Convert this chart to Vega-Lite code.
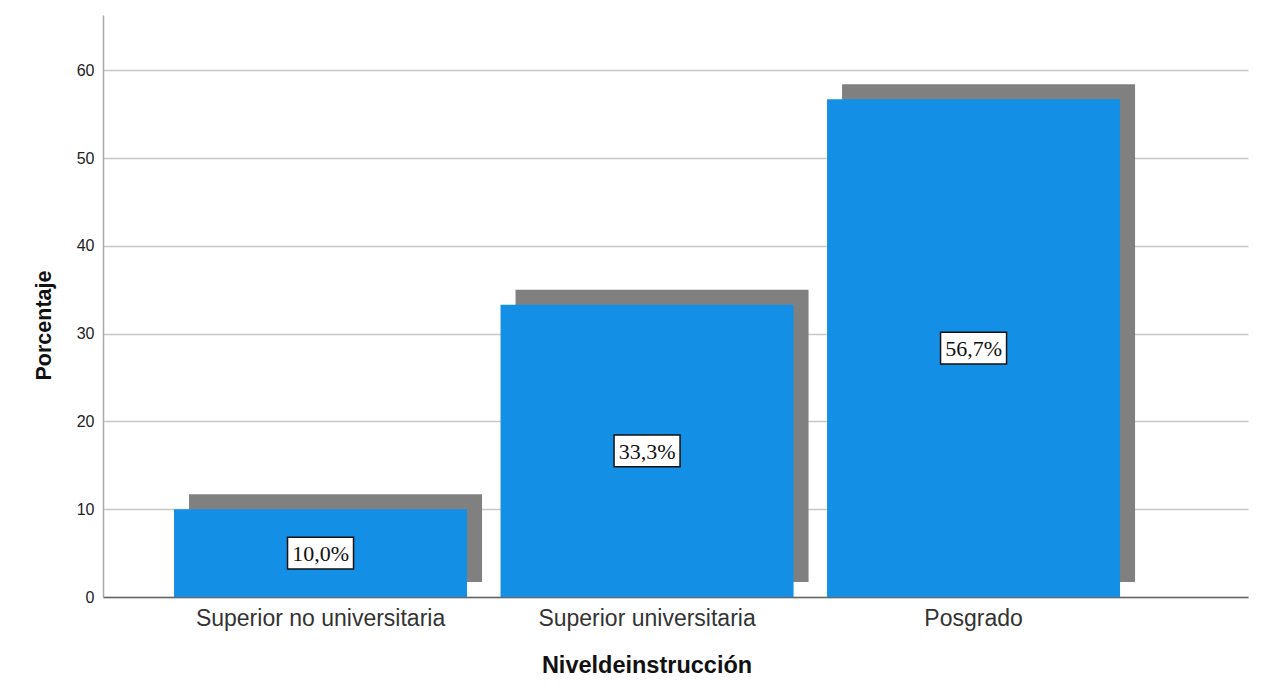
{
  "$schema": "https://vega.github.io/schema/vega-lite/v6.json",
  "autosize": {"type": "none"},
  "width": 1145,
  "height": 582,
  "padding": {"left": 103, "top": 15, "right": 18, "bottom": 101},
  "background": "white",
  "config": {
    "view": {"stroke": null},
    "font": "Liberation Sans"
  },
  "data": {
    "values": [
      {"nivel": "Superior no universitaria", "pct": 10.0, "label": "10,0%"},
      {"nivel": "Superior universitaria", "pct": 33.3, "label": "33,3%"},
      {"nivel": "Posgrado", "pct": 56.7, "label": "56,7%"}
    ]
  },
  "encoding": {
    "x": {
      "field": "nivel",
      "type": "nominal",
      "sort": null,
      "scale": {"paddingInner": 0.1026, "paddingOuter": 0.3047, "align": 0.357},
      "axis": {
        "title": "Niveldeinstrucción",
        "titleFont": "Liberation Sans",
        "titleFontSize": 23.5,
        "titleFontWeight": "bold",
        "titleColor": "#111",
        "titleX": 543.5,
        "titleY": 75,
        "titleBaseline": "alphabetic",
        "titleAnchor": "middle",
        "labelAngle": 0,
        "labelFontSize": 23,
        "labelLimit": 0,
        "labelColor": "#333",
        "labelPadding": 10,
        "ticks": false,
        "tickSize": 0,
        "domainColor": "#666",
        "domainWidth": 1.5,
        "grid": false
      }
    }
  },
  "layer": [
    {
      "encoding": {
        "y": {
          "field": "pct",
          "type": "quantitative",
          "scale": {"domain": [0, 66.3], "nice": false},
          "axis": {
            "title": "Porcentaje",
            "titleFontSize": 21.5,
            "titleFontWeight": "bold",
            "titleColor": "#111",
            "titleX": -59,
            "titleY": 310,
            "titleBaseline": "middle",
            "titleAngle": -90,
            "values": [0, 10, 20, 30, 40, 50, 60],
            "labelFontSize": 16,
            "labelColor": "#222",
            "labelPadding": 9,
            "ticks": false,
            "tickSize": 0,
            "domainColor": "#aaa",
            "domainWidth": 1.5,
            "grid": true,
            "gridColor": "#c8c8c8",
            "gridWidth": 1.5
          }
        }
      },
      "layer": [
        {
          "mark": {"type": "bar", "color": "#808080", "xOffset": 15, "x2Offset": 15, "yOffset": -15, "y2Offset": -17}
        },
        {
          "mark": {"type": "bar", "color": "#1390e6"}
        }
      ]
    },
    {
      "encoding": {
        "y": {
          "field": "pct",
          "type": "quantitative",
          "scale": {"domain": [0, 132.6], "nice": false},
          "axis": null
        }
      },
      "layer": [
        {
          "mark": {"type": "point", "shape": "M-1,-0.48H1V0.48H-1Z", "size": 4356, "filled": true, "fill": "white", "stroke": "#111", "strokeWidth": 1.5, "opacity": 1}
        },
        {
          "mark": {"type": "text", "font": "Liberation Serif", "fontSize": 22, "color": "#111", "baseline": "middle", "align": "center", "dy": 1},
          "encoding": {"text": {"field": "label"}}
        }
      ]
    }
  ],
  "resolve": {"scale": {"y": "independent"}, "axis": {"y": "independent"}}
}
